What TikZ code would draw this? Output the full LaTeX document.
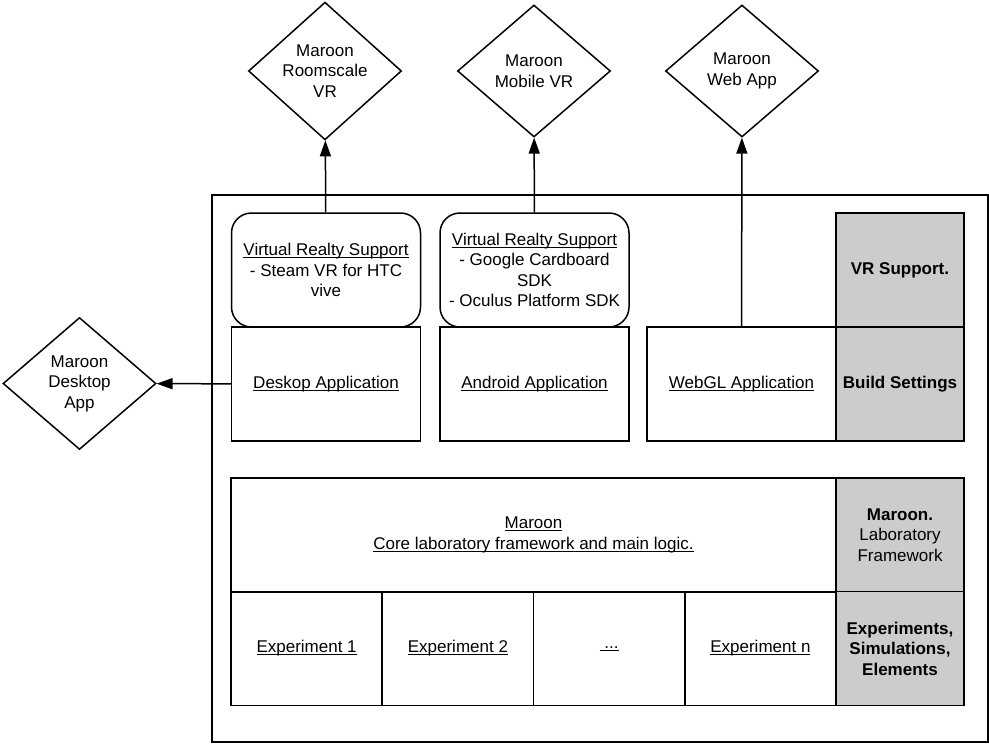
\documentclass[tikz,border=0pt]{standalone}
\usepackage{fontspec}
\setmainfont{Liberation Sans}
\usetikzlibrary{shapes.geometric,arrows.meta}
\definecolor{panelgray}{RGB}{204,204,204}
\newcommand{\ulabel}[1]{\underline{\smash{#1}}\vphantom{#1}}

\begin{document}
\begin{tikzpicture}[x=1pt,y=-1pt,
    every node/.style={font=\fontsize{17}{20.5}\selectfont,align=center},
    target/.style={draw,shape=diamond,line width=1.5pt,minimum width=153pt,minimum height=132pt,inner sep=0pt},
    vrbox/.style={draw,line width=1.5pt,rounded corners=20pt,minimum width=189pt,minimum height=114pt},
    part/.style={draw,line width=1.5pt,minimum width=#1,minimum height=114pt},
    part/.default=189pt,
    side/.style={draw,line width=1.5pt,fill=panelgray,minimum width=128pt,minimum height=114pt,font=\fontsize{17}{20.5}\selectfont\bfseries}]
      \useasboundingbox (0,0) rectangle (989,744);
      \draw[line width=1.5pt] (212,195) rectangle (988,742);
      \draw
        (325,71) node[target] (rsvr){Maroon\\Roomscale\\VR}
        (534,71) node[target] (mobvr){Maroon\\Mobile VR}
        (742,71) node[target] (webapp){Maroon\\Web App}
        (79.5,383.5) node[target] (deskapp){Maroon\\Desktop\\App};
      \draw
        (326,270) node[vrbox] (steam){\ulabel{Virtual Realty Support}\\- Steam VR for HTC\\vive}
        (534.5,270) node[vrbox] (mobile){\ulabel{Virtual Realty Support}\\- Google Cardboard\\SDK\\- Oculus Platform SDK}
        (326,384) node[part] (desk){\ulabel{Deskop Application}}
        (534.5,384) node[part] (android){\ulabel{Android Application}}
        (741.5,384) node[part] (webgl){\ulabel{WebGL Application}}
        (900,270) node[side] (vrsupport){VR Support.}
        (900,384) node[side] (build){Build Settings};
      \draw
        (533.5,535) node[part=605pt] (core){\ulabel{Maroon}\\\ulabel{Core laboratory framework and main logic.}}
        (900,535) node[side,font=\fontsize{17}{20.5}\selectfont] (labfw){\textbf{Maroon.}\\Laboratory\\Framework}
        (306.6,648.5) node[part=151.2pt] (exp1){\ulabel{Experiment 1}}
        (457.9,648.5) node[part=151.2pt] (exp2){\ulabel{Experiment 2}}
        (609.1,648.5) node[part=151.2pt] (expdots){\ulabel{~...}}
        (760.4,648.5) node[part=151.2pt] (expn){\ulabel{Experiment n}}
        (900,648.5) node[side] (elements){Experiments,\\Simulations,\\Elements};
      \begin{scope}[-{Triangle[length=16pt,width=11pt]},line width=1.5pt]
        \draw (steam) to (rsvr);
        \draw (mobile) to (mobvr);
        \draw (webgl) to (webapp);
        \draw (desk) to (deskapp);
      \end{scope}
    \end{tikzpicture}
\end{document}
